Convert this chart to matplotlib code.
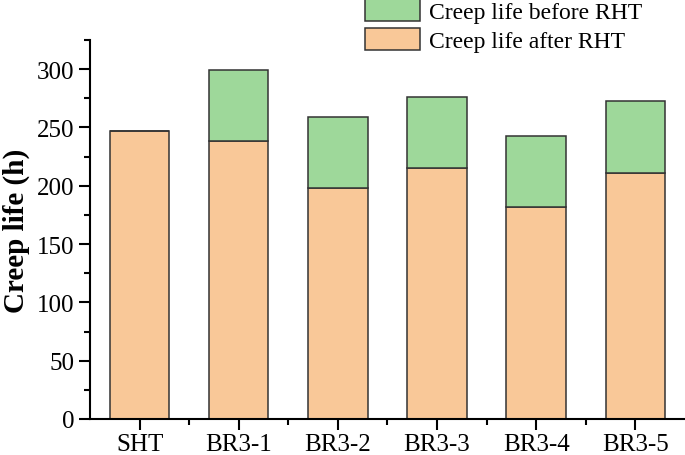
import matplotlib.pyplot as plt
import numpy as np
from matplotlib.ticker import MultipleLocator
from matplotlib.patches import Patch

# data
samples = ["SHT", "BR3-1", "BR3-2", "BR3-3", "BR3-4", "BR3-5"]
life_after_rht = [247, 238, 198, 215, 182, 211]
life_total = [247, 299, 259, 276, 243, 273]
life_before_rht = [t - a for t, a in zip(life_total, life_after_rht)]

orange = "#F9C898"
green = "#9ED89A"
edge = "#333333"

plt.rcParams["font.family"] = ["Liberation Serif", "DejaVu Serif"]

fig = plt.figure(figsize=(6.85, 4.56), dpi=100)
ax = fig.add_axes([90 / 685, 1 - 420 / 456, 595 / 685, 379 / 456])

x = np.arange(len(samples))
ax.bar(x, life_after_rht, width=0.6, color=orange, edgecolor=edge, linewidth=1.1)
ax.bar(x, life_before_rht, width=0.6, bottom=life_after_rht, color=green,
       edgecolor=edge, linewidth=1.1)

ax.set_xlim(-0.5, 5.5)
ax.set_ylim(0, 325)
ax.set_xticks(x)
ax.set_xticklabels(samples)
ax.set_xticks(x[:-1] + 0.5, minor=True)
ax.yaxis.set_major_locator(MultipleLocator(50))
ax.yaxis.set_minor_locator(MultipleLocator(25))

for s in ["top", "right"]:
    ax.spines[s].set_visible(False)
for s in ["left", "bottom"]:
    ax.spines[s].set_linewidth(1.5)

ax.tick_params(which="major", direction="out", length=8, width=1.5, labelsize=18)
ax.tick_params(which="minor", direction="out", length=4.5, width=1.5)
ax.tick_params(axis="x", which="major", pad=2)
ax.set_ylabel("Creep life (h)", fontsize=21, fontweight="bold", labelpad=5)

handles = [Patch(facecolor=green, edgecolor=edge, linewidth=1.1),
           Patch(facecolor=orange, edgecolor=edge, linewidth=1.1)]
fig.legend(handles, ["Creep life before RHT", "Creep life after RHT"],
           loc="upper left", bbox_to_anchor=(365 / 685, 1.0), frameon=False,
           borderpad=0, borderaxespad=0, fontsize=17, handlelength=2.35,
           handleheight=1.05, labelspacing=0.2, handletextpad=0.35)

fig.savefig("out.png", dpi=100)
